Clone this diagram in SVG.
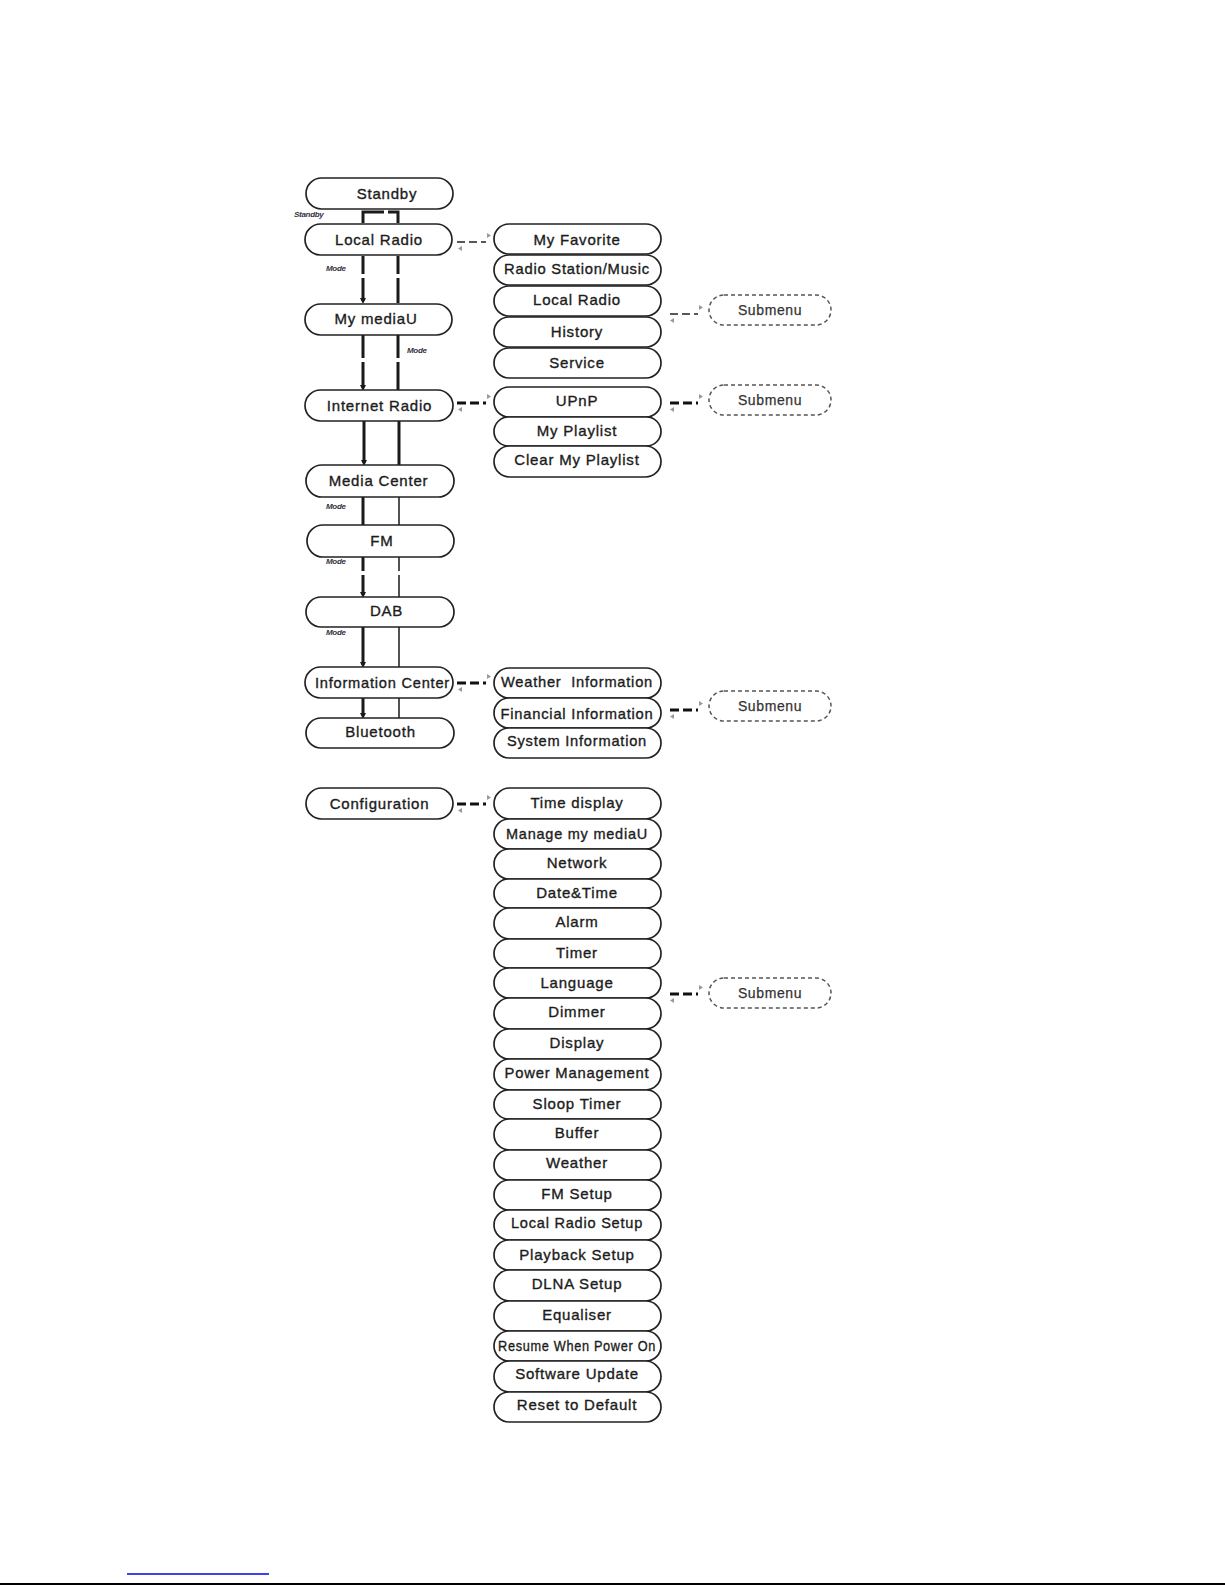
<svg xmlns="http://www.w3.org/2000/svg" width="1225" height="1585" viewBox="0 0 1225 1585">
<style>
.b{fill:#fff;stroke:#222;stroke-width:1.7}
.s{fill:#fff;stroke:#555;stroke-width:1.5;stroke-dasharray:4 3}
.t{font-family:"Liberation Sans",Arial,sans-serif;font-size:15px;fill:#1c1c1c;stroke:#1c1c1c;stroke-width:0.35px;text-anchor:middle;letter-spacing:0.8px}
.st{font-family:"Liberation Sans",Arial,sans-serif;font-size:14px;fill:#333;stroke:#333;stroke-width:0.25px;text-anchor:middle;letter-spacing:0.6px}
.m{font-family:"Liberation Sans",Arial,sans-serif;font-size:8px;font-style:italic;font-weight:bold;fill:#334;letter-spacing:-0.3px}
.k{fill:none;stroke:#1a1a1a;stroke-width:3}
.n{fill:none;stroke:#1a1a1a;stroke-width:1.5}
.d1{fill:none;stroke:#222;stroke-width:1.6;stroke-dasharray:8 4}
.d2{fill:none;stroke:#111;stroke-width:3;stroke-dasharray:9 4}
.a{fill:#999}
.ah{fill:#1a1a1a}
</style>
<rect width="1225" height="1585" fill="#fff"/>

<g id="connectors">
  <!-- Standby bracket -->
  <path class="k" d="M363,223 V212 H384 M388,212 H398 V223"/>
  <!-- Local Radio -> My mediaU -->
  <path class="k" d="M363,256 V274 M363,278 V301 M398,256 V274 M398,278 V303"/>
  <polygon class="ah" points="360,298 366,298 363,304"/>
  <!-- My mediaU -> Internet Radio -->
  <path class="k" d="M363,335 V358 M363,362 V388 M398,335 V358 M398,362 V390"/>
  <polygon class="ah" points="360,385 366,385 363,391"/>
  <!-- Internet Radio -> Media Center -->
  <path class="k" d="M364,421 V463 M399,421 V465"/>
  <polygon class="ah" points="361,460 367,460 364,466"/>
  <!-- Media Center -> FM -->
  <path class="k" d="M363,497 V525"/>
  <path class="n" d="M399,497 V525"/>
  <!-- FM -> DAB -->
  <path class="k" d="M363,557 V571 M363,575 V595"/>
  <path class="n" d="M399,557 V571 M399,575 V597"/>
  <polygon class="ah" points="360,592 366,592 363,598"/>
  <!-- DAB -> Information Center -->
  <path class="k" d="M363,627 V665"/>
  <path class="n" d="M399,627 V667"/>
  <polygon class="ah" points="360,662 366,662 363,668"/>
  <!-- Information Center -> Bluetooth -->
  <path class="k" d="M363,698 V716"/>
  <path class="n" d="M399,698 V718"/>
  <polygon class="ah" points="360,713 366,713 363,719"/>

  <!-- horizontal dashed links -->
  <path class="d1" d="M457,242 H486"/>
  <polygon class="a" points="487,233 491,235.5 487,238"/>
  <polygon class="a" points="462,246 458,248.5 462,251"/>

  <path class="d1" d="M670,314 H698"/>
  <polygon class="a" points="699,305 703,307.5 699,310"/>
  <polygon class="a" points="674,318 670,320.5 674,323"/>

  <path class="d2" d="M457,403 H486"/>
  <polygon class="a" points="487,394 491,396.5 487,399"/>
  <polygon class="a" points="462,407 458,409.5 462,412"/>

  <path class="d2" d="M670,403 H698"/>
  <polygon class="a" points="699,394 703,396.5 699,399"/>
  <polygon class="a" points="674,407 670,409.5 674,412"/>

  <path class="d2" d="M457,683 H486"/>
  <polygon class="a" points="487,674 491,676.5 487,679"/>
  <polygon class="a" points="462,687 458,689.5 462,692"/>

  <path class="d2" d="M670,710 H698"/>
  <polygon class="a" points="699,701 703,703.5 699,706"/>
  <polygon class="a" points="674,714 670,716.5 674,719"/>

  <path class="d2" d="M457,804 H486"/>
  <polygon class="a" points="487,795 491,797.5 487,800"/>
  <polygon class="a" points="462,808 458,810.5 462,813"/>

  <path class="d2" d="M670,994 H698"/>
  <polygon class="a" points="699,985 703,987.5 699,990"/>
  <polygon class="a" points="674,998 670,1000.5 674,1003"/>
</g>

<!-- Left column -->
<g id="n-standby"><rect class="b" x="306" y="178" width="147" height="31" rx="15.5"/><text class="t" x="387" y="198.5">Standby</text></g>
<g id="n-localradio"><rect class="b" x="305" y="224" width="147" height="31" rx="15.5"/><text class="t" x="379" y="244.5">Local Radio</text></g>
<g id="n-mymediau"><rect class="b" x="305" y="304" width="147" height="31" rx="15.5"/><text class="t" x="376" y="324">My mediaU</text></g>
<g id="n-internetradio"><rect class="b" x="305" y="390" width="148" height="31" rx="15.5"/><text class="t" x="379.5" y="410.5">Internet Radio</text></g>
<g id="n-mediacenter"><rect class="b" x="306" y="465" width="148" height="32" rx="16"/><text class="t" x="378.5" y="486">Media Center</text></g>
<g id="n-fm"><rect class="b" x="307" y="525" width="147" height="32" rx="16"/><text class="t" x="382" y="546">FM</text></g>
<g id="n-dab"><rect class="b" x="306" y="597" width="148" height="30" rx="15"/><text class="t" x="386.5" y="616">DAB</text></g>
<g id="n-infocenter"><rect class="b" x="305" y="667" width="148" height="31" rx="15.5"/><text class="t" x="382.5" y="687.5" textLength="135" lengthAdjust="spacingAndGlyphs">Information Center</text></g>
<g id="n-bluetooth"><rect class="b" x="306" y="718" width="148" height="30" rx="15"/><text class="t" x="380.5" y="737">Bluetooth</text></g>
<g id="n-configuration"><rect class="b" x="306" y="788" width="147" height="31" rx="15.5"/><text class="t" x="379.5" y="808.5">Configuration</text></g>

<!-- Local Radio submenu -->
<g id="n-myfavorite"><rect class="b" x="494" y="224" width="167" height="30" rx="15"/><text class="t" x="577" y="244.5">My Favorite</text></g>
<g id="n-radiostation"><rect class="b" x="494" y="255" width="167" height="30" rx="15"/><text class="t" x="577" y="274" textLength="146" lengthAdjust="spacingAndGlyphs">Radio Station/Music</text></g>
<g id="n-localradio2"><rect class="b" x="494" y="286" width="167" height="30" rx="15"/><text class="t" x="577" y="305">Local Radio</text></g>
<g id="n-history"><rect class="b" x="494" y="317" width="167" height="30" rx="15"/><text class="t" x="577" y="336.5">History</text></g>
<g id="n-service"><rect class="b" x="494" y="348" width="167" height="30" rx="15"/><text class="t" x="577" y="368">Service</text></g>

<!-- Internet Radio submenu -->
<g id="n-upnp"><rect class="b" x="494" y="387" width="167" height="30" rx="15"/><text class="t" x="577" y="406">UPnP</text></g>
<g id="n-myplaylist"><rect class="b" x="494" y="417" width="167" height="29" rx="14.5"/><text class="t" x="577" y="435.5">My Playlist</text></g>
<g id="n-clearplaylist"><rect class="b" x="494" y="446" width="167" height="31" rx="15.5"/><text class="t" x="577" y="465">Clear My Playlist</text></g>

<!-- Information Center submenu -->
<g id="n-weatherinfo"><rect class="b" x="494" y="668" width="167" height="30" rx="15"/><text class="t" x="577" y="687" xml:space="preserve" textLength="152" lengthAdjust="spacingAndGlyphs">Weather  Information</text></g>
<g id="n-financialinfo"><rect class="b" x="494" y="698" width="167" height="30" rx="15"/><text class="t" x="577" y="718.5" textLength="153" lengthAdjust="spacingAndGlyphs">Financial Information</text></g>
<g id="n-systeminfo"><rect class="b" x="494" y="728" width="167" height="30" rx="15"/><text class="t" x="577" y="746" textLength="140" lengthAdjust="spacingAndGlyphs">System Information</text></g>

<!-- Configuration submenu -->
<g id="n-timedisplay"><rect class="b" x="494" y="788" width="167" height="31" rx="15.5"/><text class="t" x="577" y="807.5">Time display</text></g>
<g id="n-managemymediau"><rect class="b" x="494" y="819" width="167" height="30" rx="15"/><text class="t" x="577" y="839" textLength="142" lengthAdjust="spacingAndGlyphs">Manage my mediaU</text></g>
<g id="n-network"><rect class="b" x="494" y="849" width="167" height="30" rx="15"/><text class="t" x="577" y="868">Network</text></g>
<g id="n-datetime"><rect class="b" x="494" y="879" width="167" height="29" rx="14.5"/><text class="t" x="577" y="897.5">Date&amp;Time</text></g>
<g id="n-alarm"><rect class="b" x="494" y="908" width="167" height="31" rx="15.5"/><text class="t" x="577" y="927">Alarm</text></g>
<g id="n-timer"><rect class="b" x="494" y="939" width="167" height="29" rx="14.5"/><text class="t" x="577" y="958">Timer</text></g>
<g id="n-language"><rect class="b" x="494" y="968" width="167" height="30" rx="15"/><text class="t" x="577" y="987.5">Language</text></g>
<g id="n-dimmer"><rect class="b" x="494" y="998" width="167" height="31" rx="15.5"/><text class="t" x="577" y="1016.5">Dimmer</text></g>
<g id="n-display"><rect class="b" x="494" y="1029" width="167" height="30" rx="15"/><text class="t" x="577" y="1048">Display</text></g>
<g id="n-powermanagement"><rect class="b" x="494" y="1059" width="167" height="31" rx="15.5"/><text class="t" x="577" y="1077.5" textLength="145" lengthAdjust="spacingAndGlyphs">Power Management</text></g>
<g id="n-sleeptimer"><rect class="b" x="494" y="1090" width="167" height="29" rx="14.5"/><text class="t" x="577" y="1108.5">Sloop Timer</text></g>
<g id="n-buffer"><rect class="b" x="494" y="1119" width="167" height="31" rx="15.5"/><text class="t" x="577" y="1138">Buffer</text></g>
<g id="n-weather"><rect class="b" x="494" y="1150" width="167" height="30" rx="15"/><text class="t" x="577" y="1167.5">Weather</text></g>
<g id="n-fmsetup"><rect class="b" x="494" y="1180" width="167" height="30" rx="15"/><text class="t" x="577" y="1198.5">FM Setup</text></g>
<g id="n-localradiosetup"><rect class="b" x="494" y="1210" width="167" height="30" rx="15"/><text class="t" x="577" y="1228" textLength="132" lengthAdjust="spacingAndGlyphs">Local Radio Setup</text></g>
<g id="n-playbacksetup"><rect class="b" x="494" y="1240" width="167" height="30" rx="15"/><text class="t" x="577" y="1259.5">Playback Setup</text></g>
<g id="n-dlnasetup"><rect class="b" x="494" y="1270" width="167" height="31" rx="15.5"/><text class="t" x="577" y="1288.5">DLNA Setup</text></g>
<g id="n-equaliser"><rect class="b" x="494" y="1301" width="167" height="30" rx="15"/><text class="t" x="577" y="1320">Equaliser</text></g>
<g id="n-resume"><rect class="b" x="494" y="1331" width="167" height="30" rx="15"/><text class="t" x="577" y="1351" letter-spacing="0" textLength="158" lengthAdjust="spacingAndGlyphs">Resume When Power On</text></g>
<g id="n-softwareupdate"><rect class="b" x="494" y="1361" width="167" height="31" rx="15.5"/><text class="t" x="577" y="1379">Software Update</text></g>
<g id="n-reset"><rect class="b" x="494" y="1392" width="167" height="30" rx="15"/><text class="t" x="577" y="1410">Reset to Default</text></g>

<!-- Submenu placeholders -->
<g id="n-sub1"><rect class="s" x="709" y="295" width="122" height="30" rx="15"/><text class="st" x="770" y="315">Submenu</text></g>
<g id="n-sub2"><rect class="s" x="709" y="385" width="122" height="30" rx="15"/><text class="st" x="770" y="405">Submenu</text></g>
<g id="n-sub3"><rect class="s" x="709" y="691" width="122" height="30" rx="15"/><text class="st" x="770" y="711">Submenu</text></g>
<g id="n-sub4"><rect class="s" x="709" y="978" width="122" height="30" rx="15"/><text class="st" x="770" y="998">Submenu</text></g>

<!-- connector labels -->
<g id="connector-labels">
  <text class="m" x="294" y="217">Standby</text>
  <text class="m" x="326" y="271">Mode</text>
  <text class="m" x="407" y="353">Mode</text>
  <text class="m" x="326" y="509">Mode</text>
  <text class="m" x="326" y="564">Mode</text>
  <text class="m" x="326" y="635">Mode</text>
</g>

<!-- page decorations -->
<line x1="127" y1="1574" x2="269" y2="1574" stroke="#0000ee" stroke-width="1.5"/>
<line x1="0" y1="1584" x2="1225" y2="1584" stroke="#000" stroke-width="2"/>
</svg>
